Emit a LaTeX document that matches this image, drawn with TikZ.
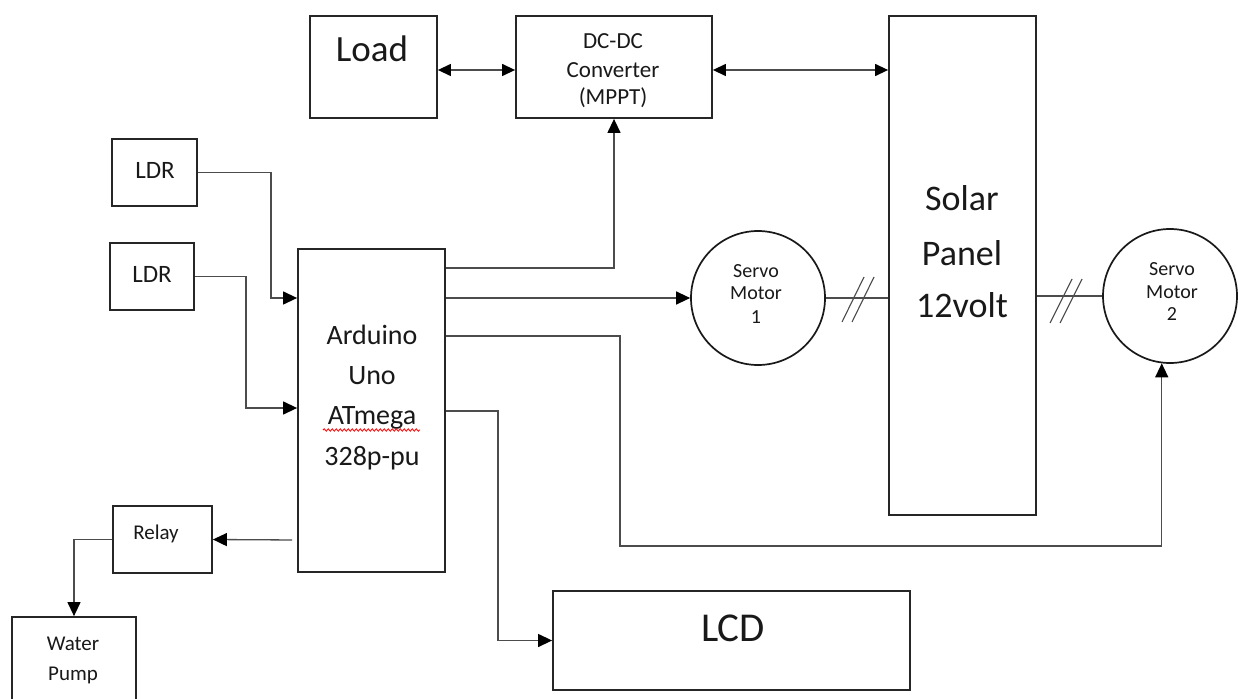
\documentclass[tikz,border=0pt]{standalone}
\usepackage{fontspec}
\setmainfont{Carlito}
\usetikzlibrary{arrows.meta,decorations.pathmorphing}
\tikzset{
  box/.style={draw=black!85, line width=1.8pt, inner sep=0pt, fill=none},
  motor/.style={draw=black!90, circle, line width=1.7pt, inner sep=0pt},
  conn/.style={draw=black!70, line width=1.3pt},
  tip/.style={Triangle[length=14pt,width=13pt,color=black]},
  arr/.style={conn, -{Triangle[length=14pt,width=13pt,color=black]}},
  biarr/.style={conn, {Triangle[length=13pt,width=12pt,color=black]}-{Triangle[length=13pt,width=12pt,color=black]}},
  lbl/.style={anchor=base, inner sep=0pt, text=black!90},
}
\newcommand{\fs}[1]{\fontsize{#1}{#1}\selectfont}
\begin{document}
\begin{tikzpicture}[x=1pt,y=-1pt]
\useasboundingbox (0,0) rectangle (1238,698);
\clip (0,0) rectangle (1238,698);
\fill[white] (0,0) rectangle (1238,698);

% boxes
\node[box, minimum width=127pt, minimum height=102pt] (load) at (373.5,67) {};
\node[box, minimum width=196pt, minimum height=102pt] (dcdc) at (614,67) {};
\node[box, minimum width=147pt, minimum height=499pt] (solar) at (962.5,265.5) {};
\node[box, minimum width=85pt, minimum height=67pt] (ldr1) at (154.5,172.5) {};
\node[box, minimum width=84pt, minimum height=67pt] (ldr2) at (152,276.5) {};
\node[box, minimum width=147pt, minimum height=323pt] (ard) at (371.5,410.5) {};
\node[box, minimum width=99pt, minimum height=67pt] (relay) at (162.5,539.5) {};
\node[box, minimum width=124pt, minimum height=110pt] (pump) at (74,672) {};
\node[box, minimum width=357pt, minimum height=99pt] (lcd) at (731.5,640.5) {};
\node[motor, minimum size=134pt] (s1) at (758,298) {};
\node[motor, minimum size=134pt] (s2) at (1170,296) {};

% labels
\node[lbl, font=\fs{37}] (tload) at (372,62) {Load};
\node[lbl, font=\fs{23}] (tdc1) at (613,49) {DC-DC};
\node[lbl, font=\fs{23}] (tdc2) at (613,78) {Converter};
\node[lbl, font=\fs{23}] (tdc3) at (613,105) {(MPPT)};
\node[lbl, font=\fs{36}] (tsol1) at (962,210) {Solar};
\node[lbl, font=\fs{36}] (tsol2) at (962,265) {Panel};
\node[lbl, font=\fs{36}] (tsol3) at (962,317) {12volt};
\node[lbl, font=\fs{20}] (ts11) at (756,277) {Servo};
\node[lbl, font=\fs{20}] (ts12) at (756,299) {Motor};
\node[lbl, font=\fs{20}] (ts13) at (756,323) {1};
\node[lbl, font=\fs{20}] (ts21) at (1172,275) {Servo};
\node[lbl, font=\fs{20}] (ts22) at (1172,298) {Motor};
\node[lbl, font=\fs{20}] (ts23) at (1172,320) {2};
\node[lbl, font=\fs{28}] (ta1) at (372,344) {Arduino};
\node[lbl, font=\fs{28}] (ta2) at (372,384) {Uno};
\node[lbl, font=\fs{28}] (ta3) at (372,424) {ATmega};
\node[lbl, font=\fs{28}] (ta4) at (372,465) {328p-pu};
\node[lbl, font=\fs{25}] (tldr1) at (155,178) {LDR};
\node[lbl, font=\fs{25}] (tldr2) at (152,282) {LDR};
\node[lbl, font=\fs{21}] (trelay) at (156,539) {Relay};
\node[lbl, font=\fs{21}] (tpump1) at (73,650) {Water};
\node[lbl, font=\fs{21}] (tpump2) at (73,680) {Pump};
\node[lbl, font=\fs{41}] (tlcd) at (733,641) {LCD};

% spell-check squiggle
\draw[red, line width=0.8pt, decorate, decoration={snake, amplitude=1.2pt, segment length=4pt}] (323,430) -- (420,430);

% connectors
\draw[biarr] ([yshift=-3pt]load.east) -- ([yshift=-3pt]dcdc.west);
\draw[biarr] ([yshift=-3pt]dcdc.east) -- ([yshift=-3pt]dcdc.east -| solar.west);
\draw[arr] (ard.east |- 0,268) -| (dcdc.south);
\draw[arr] (ard.east |- s1.west) -- (s1.west);
\draw[conn] (s1.east) -- (s1.east -| solar.west);
\draw[conn] (solar.east |- s2.west) -- (s2.west);
\draw[arr] (ard.east |- 0,336) -- (620,336) -- (620,546) -| (s2.-97);
\draw[arr] (ard.east |- 0,411) -- (498,411) |- (lcd.west);
\draw[arr] (ldr1.east) -- (271,172.5) |- (ard.west |- 0,298);
\draw[arr] (ldr2.east) -- (246,276.5) |- (ard.west |- 0,408);
\draw[arr, shorten <=5pt] (ard.west |- 0,540) -- (relay.east);
\draw[arr] (relay.west) -| (pump.north);

% double slashes
\foreach \cx in {853,863} \draw[conn, line width=1.1pt] (\cx-11,322) -- (\cx+11,277);
\foreach \cx in {1061,1071} \draw[conn, line width=1.1pt] (\cx-11,323) -- (\cx+11,279);
\end{tikzpicture}
\end{document}
